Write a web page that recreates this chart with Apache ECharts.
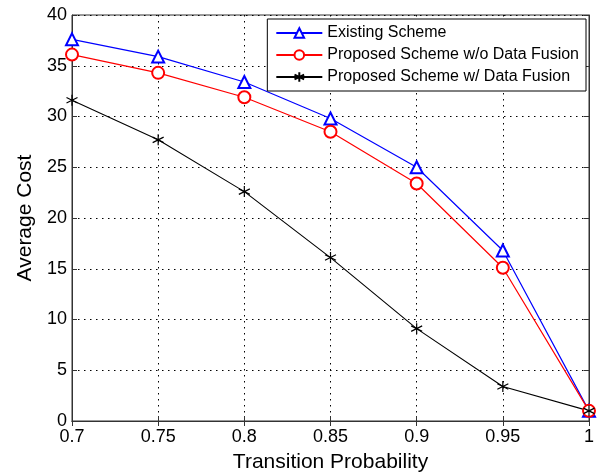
<!DOCTYPE html>
<html>
<head>
<meta charset="utf-8">
<script src="https://cdn.jsdelivr.net/npm/echarts@6/dist/echarts.min.js"></script>
<style>
  html, body { margin: 0; padding: 0; background: #fff; }
  #chart { width: 597px; height: 472px; }
</style>
</head>
<body>
<div id="chart"></div>
<script>
// values
const xValues = [0.7, 0.75, 0.8, 0.85, 0.9, 0.95, 1];
const existing = [37.6, 35.9, 33.4, 29.8, 25.0, 16.8, 1.0];
const proposedNoFusion = [36.1, 34.3, 31.9, 28.5, 23.4, 15.1, 1.0];
const proposedFusion = [31.6, 27.7, 22.6, 16.1, 9.1, 3.4, 1.0];
const seriesNames = [
  "Existing Scheme",
  "Proposed Scheme w/o Data Fusion",
  "Proposed Scheme w/ Data Fusion",
];

const chart = echarts.init(document.getElementById("chart"));
const font = "Liberation Sans, Arial, Helvetica, sans-serif";

// asterisk marker, drawn as strokes
const starPath = "path://M0,-1L0,1M-0.87,-0.5L0.87,0.5M-0.87,0.5L0.87,-0.5";

const pair = (ys) => xValues.map((x, i) => [x, ys[i]]);

const gridLine = {
  show: true,
  lineStyle: { color: "#000", width: 1, type: [1.5, 4.5] },
};

const option = {
  animation: false,
  backgroundColor: "#fff",
  textStyle: { fontFamily: font },
  grid: {
    left: 72,
    right: 8,
    top: 15,
    bottom: 51,
    outerBoundsMode: "none",
    show: true,
    borderColor: "#333",
    borderWidth: 1,
  },
  legend: {
    right: 11,
    top: 19,
    orient: "vertical",
    backgroundColor: "#fff",
    borderColor: "#000",
    borderWidth: 1,
    borderRadius: 0,
    padding: [6, 7, 6, 8],
    itemGap: 6,
    itemWidth: 46,
    itemHeight: 12,
    textStyle: { fontSize: 16, color: "#000", fontFamily: font },
    data: seriesNames,
  },
  xAxis: [
    {
      type: "value",
      min: 0.7,
      max: 1,
      interval: 0.05,
      name: "Transition Probability",
      nameLocation: "middle",
      nameGap: 31,
      nameTextStyle: { fontSize: 21, color: "#000" },
      axisLine: { show: true, onZero: false, lineStyle: { color: "#333" } },
      axisTick: { show: true, inside: true, length: 5, lineStyle: { color: "#333" } },
      axisLabel: {
        fontSize: 18,
        color: "#000",
        margin: 7,
        formatter: (v) => String(+v.toFixed(2)),
      },
      splitLine: gridLine,
    },
    {
      type: "value",
      position: "top",
      min: 0.7,
      max: 1,
      interval: 0.05,
      axisLine: { show: true, lineStyle: { color: "#333" } },
      axisTick: { show: true, inside: true, length: 5, lineStyle: { color: "#333" } },
      axisLabel: { show: false },
      splitLine: { show: false },
    },
  ],
  yAxis: [
    {
      type: "value",
      min: 0,
      max: 40,
      interval: 5,
      name: "Average Cost",
      nameLocation: "middle",
      nameGap: 35,
      nameTextStyle: { fontSize: 21, color: "#000" },
      axisLine: { show: true, lineStyle: { color: "#333" } },
      axisTick: { show: true, inside: true, length: 5, lineStyle: { color: "#333" } },
      axisLabel: { fontSize: 18, color: "#000", margin: 5 },
      splitLine: gridLine,
    },
    {
      type: "value",
      position: "right",
      min: 0,
      max: 40,
      interval: 5,
      axisLine: { show: true, lineStyle: { color: "#333" } },
      axisTick: { show: true, inside: true, length: 5, lineStyle: { color: "#333" } },
      axisLabel: { show: false },
      splitLine: { show: false },
    },
  ],
  series: [
    {
      name: seriesNames[0],
      type: "line",
      data: pair(existing),
      symbol: "emptyTriangle",
      symbolSize: 12,
      color: "#0000ff",
      lineStyle: { color: "#0000ff", width: 1.2 },
      itemStyle: { color: "#0000ff", borderColor: "#0000ff", borderWidth: 1.1 },
    },
    {
      name: seriesNames[1],
      type: "line",
      data: pair(proposedNoFusion),
      symbol: "emptyCircle",
      symbolSize: 12,
      color: "#ff0000",
      lineStyle: { color: "#ff0000", width: 1.2 },
      itemStyle: { color: "#ff0000", borderColor: "#ff0000", borderWidth: 1.1 },
    },
    {
      name: seriesNames[2],
      type: "line",
      data: pair(proposedFusion),
      symbol: starPath,
      symbolSize: 11,
      color: "#000",
      lineStyle: { color: "#000", width: 1.1 },
      itemStyle: { color: "#000", borderColor: "#000", borderWidth: 1.2 },
    },
  ],
};

chart.setOption(option);
</script>
</body>
</html>
